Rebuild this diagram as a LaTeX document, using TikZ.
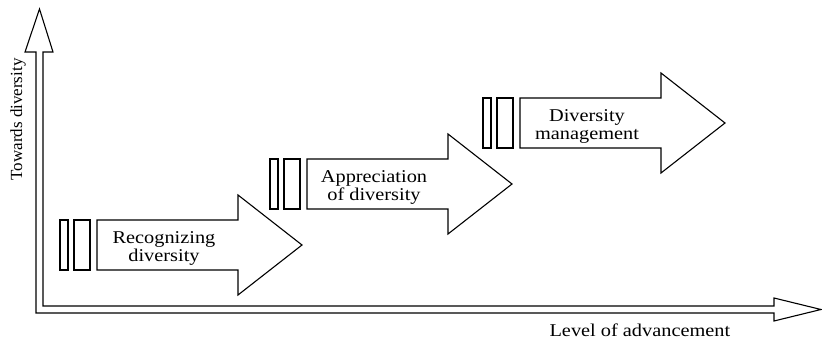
\documentclass[tikz,border=0pt]{standalone}
\usepackage{fontspec}
\setmainfont[FakeStretch=1.13]{Liberation Serif}
\newfontfamily\uprightfont{Liberation Serif}
\begin{document}
\begin{tikzpicture}[x=1pt,y=1pt,line width=1.1pt,line join=miter,
    blockarrow/.style={draw=black,fill=white},
    bar/.style={draw=black,fill=white},
    lbl/.style={inner sep=0pt,align=center,font=\fontsize{18}{18}\selectfont}]
  \useasboundingbox (0,0) rectangle (822,340);
  % axes drawn as one double-lined outline
  \draw (39.5,331) -- (53,288) -- (43,288) -- (43,34) -- (774,34) -- (774,42) -- (821,30.5)
        -- (774,19) -- (774,27) -- (36,27) -- (36,288) -- (25,288) -- cycle;
  \node[lbl,rotate=90,font=\uprightfont\fontsize{17}{18}\selectfont] (ylab) at (18,220.5) {Towards diversity};
  \node[lbl,anchor=base west] (xlab) at (549,3) {Level of advancement};

  % the three steps
  \foreach \sx/\sy/\nm/\txt in {97/95/recog/{Recognizing\\diversity},
                                307/156/apprec/{Appreciation\\of diversity},
                                520/217/manage/{Diversity\\management}}{
    \draw[bar] (\sx-37,\sy-25) rectangle (\sx-29,\sy+25);
    \draw[bar] (\sx-23,\sy-25) rectangle (\sx-7,\sy+25);
    \draw[blockarrow] (\sx,\sy+25) -- (\sx+141,\sy+25) -- (\sx+141,\sy+50) -- (\sx+205,\sy)
          -- (\sx+141,\sy-50) -- (\sx+141,\sy-25) -- (\sx,\sy-25) -- cycle;
    \node[lbl] (\nm) at (\sx+67,\sy-3) {\txt};
  }
\end{tikzpicture}
\end{document}
